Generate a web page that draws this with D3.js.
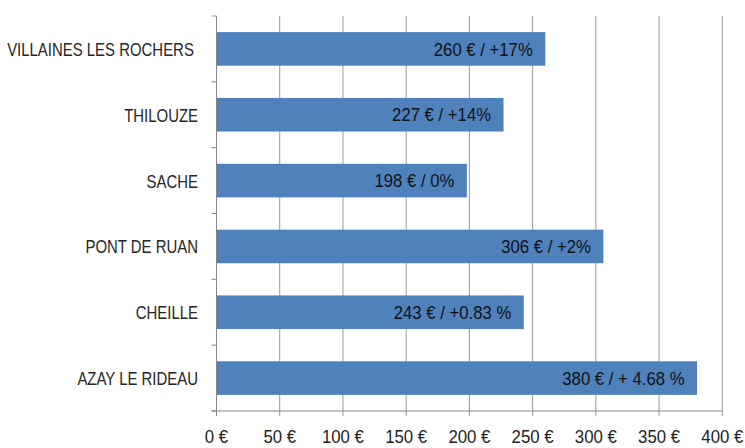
<!DOCTYPE html>
<html>
<head>
<meta charset="utf-8">
<script src="https://cdn.jsdelivr.net/npm/d3@7"></script>
<style>
  html, body { margin: 0; padding: 0; background: #fff; }
  svg { display: block; }
  text { font-family: "Liberation Sans", Arial, sans-serif; }
</style>
</head>
<body>
<svg id="chart" width="745" height="448"></svg>
<script>
const categories = ["VILLAINES LES ROCHERS ", "THILOUZE", "SACHE", "PONT DE RUAN", "CHEILLE", "AZAY LE RIDEAU"];
const values = [260, 227, 198, 306, 243, 380];
const changes = ["+17%", "+14%", "0%", "+2%", "+0.83 %", "+ 4.68 %"];
const xTicks = [0, 50, 100, 150, 200, 250, 300, 350, 400];

(function () {
const svg = d3.select("#chart");
const mLeft = 216.5, mRight = 722.3, mTop = 16, mBottom = 411;

const x = d3.scaleLinear().domain([0, 400]).range([mLeft, mRight]);
const y = d3.scaleBand().domain(categories).range([mTop, mBottom]).padding(0);

const gridColor = "#999999";
const axisColor = "#878787";

// vertical gridlines (extend below axis as tick marks)
svg.append("g").selectAll("line").data(xTicks.filter(d => d > 0)).join("line")
  .attr("x1", d => x(d)).attr("x2", d => x(d))
  .attr("y1", mTop).attr("y2", mBottom + 5)
  .attr("stroke", gridColor).attr("stroke-width", 1);

// bars
const bh = y.bandwidth() * 0.51;
svg.append("g").selectAll("rect").data(categories).join("rect")
  .attr("x", x(0))
  .attr("y", d => y(d) + (y.bandwidth() - bh) / 2)
  .attr("width", (d, i) => x(values[i]) - x(0))
  .attr("height", bh)
  .attr("fill", "#4F81BD");

// left axis line and category ticks at band boundaries
svg.append("line").attr("x1", mLeft).attr("x2", mLeft).attr("y1", mTop).attr("y2", mBottom + 5)
  .attr("stroke", axisColor).attr("stroke-width", 1);
const bounds = categories.map(c => y(c)).concat([mBottom]);
svg.append("g").selectAll("line").data(bounds).join("line")
  .attr("x1", mLeft - 5).attr("x2", mLeft)
  .attr("y1", d => d).attr("y2", d => d)
  .attr("stroke", axisColor).attr("stroke-width", 1);

// bottom axis line
svg.append("line").attr("x1", mLeft - 5).attr("x2", mRight).attr("y1", mBottom).attr("y2", mBottom)
  .attr("stroke", axisColor).attr("stroke-width", 1);

// x tick labels
svg.append("g").selectAll("g").data(xTicks).join("g")
  .attr("transform", d => `translate(${x(d)},443) scale(0.96,1)`)
  .append("text")
  .attr("text-anchor", "middle")
  .attr("font-size", 17.5)
  .attr("fill", "#222")
  .text(d => `${d} €`);

// category labels
svg.append("g").selectAll("g").data(categories).join("g")
  .attr("transform", d => `translate(198,${y(d) + y.bandwidth() / 2 + 1}) scale(0.83,1)`)
  .append("text")
  .attr("text-anchor", "end")
  .attr("dominant-baseline", "central")
  .attr("font-size", 18)
  .attr("fill", "#262626")
  .style("white-space", "pre")
  .text(d => d);

// value labels inside bars
svg.append("g").selectAll("g").data(categories).join("g")
  .attr("transform", (d, i) => `translate(${x(values[i]) - 12.5},${y(d) + y.bandwidth() / 2 + 1}) scale(0.955,1)`)
  .append("text")
  .attr("text-anchor", "end")
  .attr("dominant-baseline", "central")
  .attr("font-size", 17.5)
  .attr("fill", "#111")
  .text((d, i) => `${values[i]} € / ${changes[i]}`);
})();
</script>
</body>
</html>
